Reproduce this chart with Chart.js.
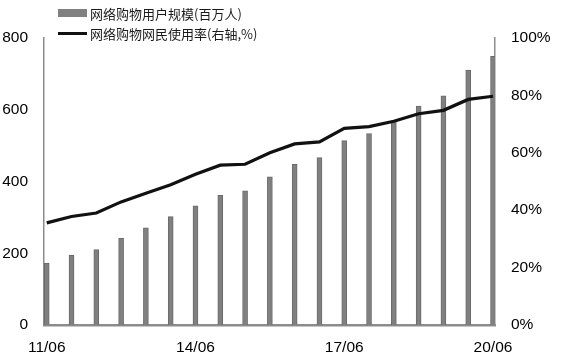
<!DOCTYPE html>
<html>
<head>
<meta charset="utf-8">
<script src="https://cdn.jsdelivr.net/npm/chart.js@4/dist/chart.umd.min.js"></script>
<style>
  html, body { margin: 0; padding: 0; background: #fff; }
  #wrap { position: relative; width: 562px; height: 360px; }
  #legend { position: absolute; left: 58px; top: 3px; font-family: "Noto Sans CJK SC", sans-serif; font-size: 13px; color: #1a1a1a; }
  .item { display: flex; align-items: center; height: 20px; }
  .sw { width: 29px; margin-right: 3px; }
</style>
</head>
<body>
<div id="wrap">
  <canvas id="c" width="562" height="360"></canvas>
  <div id="legend"></div>
</div>
<script>
// Data
const periods = ['11/06','11/12','12/06','12/12','13/06','13/12','14/06','14/12','15/06','15/12',
                 '16/06','16/12','17/06','17/12','18/06','18/12','19/06','20/03','20/06'];
const shoppers = [172.5, 194.0, 210.1, 242.0, 271.0, 301.9, 332.4, 361.4, 374.0, 413.3,
                  448.0, 466.7, 514.0, 533.3, 568.9, 610.1, 638.8, 710.3, 748.7];
const usageRate = [35.6, 37.8, 39.0, 42.9, 45.9, 48.9, 52.5, 55.7, 56.0, 60.0,
                   63.1, 63.8, 68.5, 69.1, 71.0, 73.6, 74.8, 78.6, 79.7];
const xTickIdx = [0, 6, 12, 18];
const leftTicks = [0, 200, 400, 600, 800];
const rightTicks = [0, 20, 40, 60, 80, 100];
const seriesNames = ['网络购物用户规模(百万人)', '网络购物网民使用率(右轴,%)'];

const tickFont = { family: '"Liberation Sans", Arial, sans-serif', size: 15.5 };

const chart = new Chart(document.getElementById('c'), {
  data: {
    datasets: [
      {
        type: 'line',
        label: seriesNames[1],
        data: usageRate.map((v, i) => ({ x: i, y: v })),
        yAxisID: 'yR',
        borderColor: '#111',
        borderWidth: 3.2,
        pointRadius: 0,
        tension: 0,
        order: 0
      },
      {
        type: 'bar',
        label: seriesNames[0],
        data: shoppers.map((v, i) => ({ x: i, y: v })),
        yAxisID: 'yL',
        backgroundColor: '#808080',
        borderColor: '#6a6a6a',
        borderWidth: 1,
        barThickness: 5,
        order: 1
      }
    ]
  },
  options: {
    responsive: false,
    animation: false,
    layout: { padding: { top: 38, left: 0, right: 0, bottom: 0 } },
    plugins: { legend: { display: false }, tooltip: { enabled: false } },
    scales: {
      x: {
        type: 'linear',
        offset: false,
        min: -0.11,
        max: 18.08,
        grid: { display: false, drawTicks: false, offset: false },
        border: { display: true, color: '#8c8c8c', width: 2.5 },
        afterBuildTicks: (s) => { s.ticks = xTickIdx.map(v => ({ value: v })); },
        afterFit: (s) => { s.height = 35; },
        ticks: {
          autoSkip: false, maxRotation: 0, padding: 13, color: '#000', font: tickFont,
          callback: (v) => periods[v]
        }
      },
      yL: {
        type: 'linear', position: 'left', min: 0, max: 800,
        grid: { display: false, drawTicks: false },
        border: { display: true, color: '#8c8c8c', width: 1.5 },
        afterBuildTicks: (s) => { s.ticks = leftTicks.map(v => ({ value: v })); },
        afterFit: (s) => { s.width = 44; },
        ticks: { padding: 16, color: '#000', font: tickFont }
      },
      yR: {
        type: 'linear', position: 'right', min: 0, max: 100,
        grid: { display: false, drawTicks: false },
        border: { display: true, color: '#8c8c8c', width: 1.5 },
        afterBuildTicks: (s) => { s.ticks = rightTicks.map(v => ({ value: v })); },
        afterFit: (s) => { s.width = 67; },
        ticks: { padding: 16, color: '#000', font: tickFont, callback: (v) => v + '%' }
      }
    }
  }
});

// HTML legend built from the chart's datasets
const lg = document.getElementById('legend');
[1, 0].forEach(di => {
  const ds = chart.data.datasets[di];
  const row = document.createElement('div');
  row.className = 'item';
  const sw = document.createElement('span');
  sw.className = 'sw';
  if (ds.type === 'bar') { sw.style.height = '8px'; sw.style.background = ds.backgroundColor; }
  else { sw.style.height = '3px'; sw.style.background = ds.borderColor; }
  const tx = document.createElement('span');
  tx.textContent = ds.label;
  row.appendChild(sw); row.appendChild(tx);
  lg.appendChild(row);
});
</script>
</body>
</html>
